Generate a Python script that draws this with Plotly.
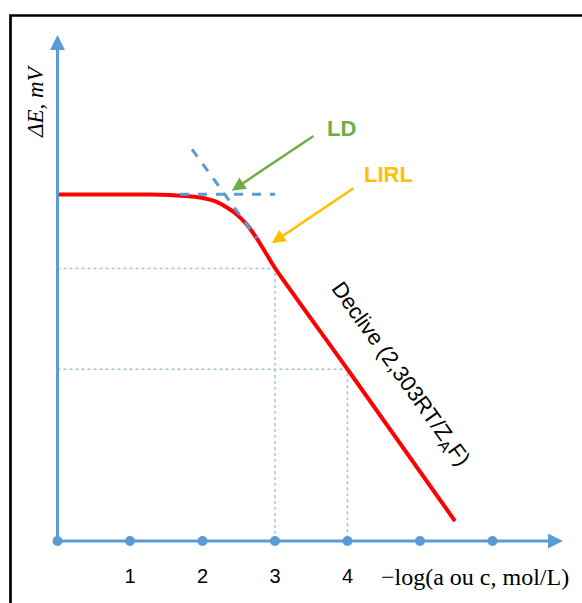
import plotly.graph_objects as go

# Potential response of an ion-selective electrode vs. -log(activity)
curve_x = [0.0, 1.0, 1.276, 1.552, 1.759, 1.966, 2.196, 2.425, 2.610, 2.748, 2.886, 3.0, 4.0, 5.483]
curve_y = [205.0, 205.0, 205.0, 204.7, 204.1, 203.2, 200.6, 194.8, 187.3, 179.0, 169.5, 161.5, 101.6, 11.8]

# Tangent lines whose intersection marks the detection limit (LD)
flat_tangent_x = [1.69, 3.0]
flat_tangent_y = [205.2, 205.2]
slope_tangent_x = [1.856, 2.748]
slope_tangent_y = [231.7, 179.1]

# Guide points on the linear (Nernstian) region
guide_x = [3.0, 4.0]
guide_y = [161.2, 101.6]

tick_values = [0, 1, 2, 3, 4, 5, 6]
tick_labels = ["1", "2", "3", "4"]
tick_label_pos = [1, 2, 3, 4]

BLUE = "#5B9BD5"
LIGHT_BLUE = "#9DC3E6"
RED = "#FF0000"
GREEN = "#70AD47"
GOLD = "#FFC000"

X_RANGE = [-0.7931, 7.2345]
Y_RANGE = [-36.68, 320.06]
X_TIP = 6.972
Y_TIP = 299.3

fig = go.Figure()

# dotted guide lines
for gx, gy in zip(guide_x, guide_y):
    fig.add_trace(go.Scatter(x=[0, gx, gx], y=[gy, gy, 0], mode="lines",
                             line=dict(color=LIGHT_BLUE, width=1.5, dash="dot"),
                             hoverinfo="skip", showlegend=False))

# response curve
fig.add_trace(go.Scatter(x=curve_x, y=curve_y, mode="lines",
                         line=dict(color=RED, width=4, shape="spline", smoothing=0.6),
                         hoverinfo="skip", showlegend=False))

# tangent lines (drawn over the curve)
fig.add_trace(go.Scatter(x=flat_tangent_x, y=flat_tangent_y, mode="lines",
                         line=dict(color=BLUE, width=3, dash="dash"),
                         hoverinfo="skip", showlegend=False))
fig.add_trace(go.Scatter(x=slope_tangent_x, y=slope_tangent_y, mode="lines",
                         line=dict(color=BLUE, width=3, dash="dash"),
                         hoverinfo="skip", showlegend=False))

# x-axis tick dots
fig.add_trace(go.Scatter(x=tick_values, y=[0] * len(tick_values), mode="markers",
                         marker=dict(color=BLUE, size=10),
                         hoverinfo="skip", showlegend=False))

# tick labels
fig.add_trace(go.Scatter(x=tick_label_pos, y=[-21.9] * len(tick_label_pos), mode="text",
                         text=tick_labels,
                         textfont=dict(family="Liberation Sans", size=20, color="#000000"),
                         hoverinfo="skip", showlegend=False))

annotations = [
    # axes with arrow heads
    dict(x=X_TIP, y=0, ax=0, ay=0, xref="x", yref="y", axref="x", ayref="y",
         showarrow=True, arrowhead=2, arrowsize=1, arrowwidth=3, arrowcolor=BLUE,
         text="", standoff=0, startstandoff=0),
    dict(x=0, y=Y_TIP, ax=0, ay=0, xref="x", yref="y", axref="x", ayref="y",
         showarrow=True, arrowhead=2, arrowsize=1, arrowwidth=3, arrowcolor=BLUE,
         text="", standoff=0, startstandoff=0),
    # LD arrow and label
    dict(x=2.403, y=207.2, ax=3.552, ay=240.2, xref="x", yref="y", axref="x", ayref="y",
         showarrow=True, arrowhead=2, arrowsize=1.1, arrowwidth=2.5, arrowcolor=GREEN,
         text="", standoff=0),
    dict(x=3.924, y=244.0, xref="x", yref="y", showarrow=False, text="<b>LD</b>",
         font=dict(family="Liberation Sans", size=22, color=GREEN)),
    # LIRL arrow and label
    dict(x=2.954, y=176.1, ax=4.103, ay=209.3, xref="x", yref="y", axref="x", ayref="y",
         showarrow=True, arrowhead=2, arrowsize=1.1, arrowwidth=2.5, arrowcolor=GOLD,
         text="", standoff=0),
    dict(x=4.559, y=216.8, xref="x", yref="y", showarrow=False, text="<b>LIRL</b>",
         font=dict(family="Liberation Sans", size=22, color=GOLD)),
    # slope label along the linear region
    dict(x=4.73, y=98.5, xref="x", yref="y", showarrow=False, textangle=54.3,
         text="Declive (2,303RT/Z<sub>A</sub>F)",
         font=dict(family="Liberation Sans", size=22, color="#000000")),
    # axis titles
    dict(x=-0.31, y=260.3, xref="x", yref="y", showarrow=False, textangle=-90,
         text="<i>ΔE, mV</i>",
         font=dict(family="Liberation Serif", size=23, color="#000000")),
    dict(x=5.76, y=-21.3, xref="x", yref="y", showarrow=False,
         text="−log(a ou c, mol/L)",
         font=dict(family="Liberation Serif", size=24, color="#000000")),
]

fig.update_layout(
    width=582, height=603, autosize=False,
    margin=dict(l=0, r=0, t=0, b=0, pad=0),
    paper_bgcolor="#FFFFFF", plot_bgcolor="#FFFFFF",
    xaxis=dict(range=X_RANGE, visible=False, fixedrange=True),
    yaxis=dict(range=Y_RANGE, visible=False, fixedrange=True),
    annotations=annotations,
    shapes=[dict(type="rect", xref="paper", yref="paper",
                 x0=10.5 / 582, x1=1.05, y0=-0.05, y1=1 - 15.5 / 603,
                 line=dict(color="#000000", width=2.7), fillcolor="rgba(0,0,0,0)")],
)

fig.write_html("out.html")
